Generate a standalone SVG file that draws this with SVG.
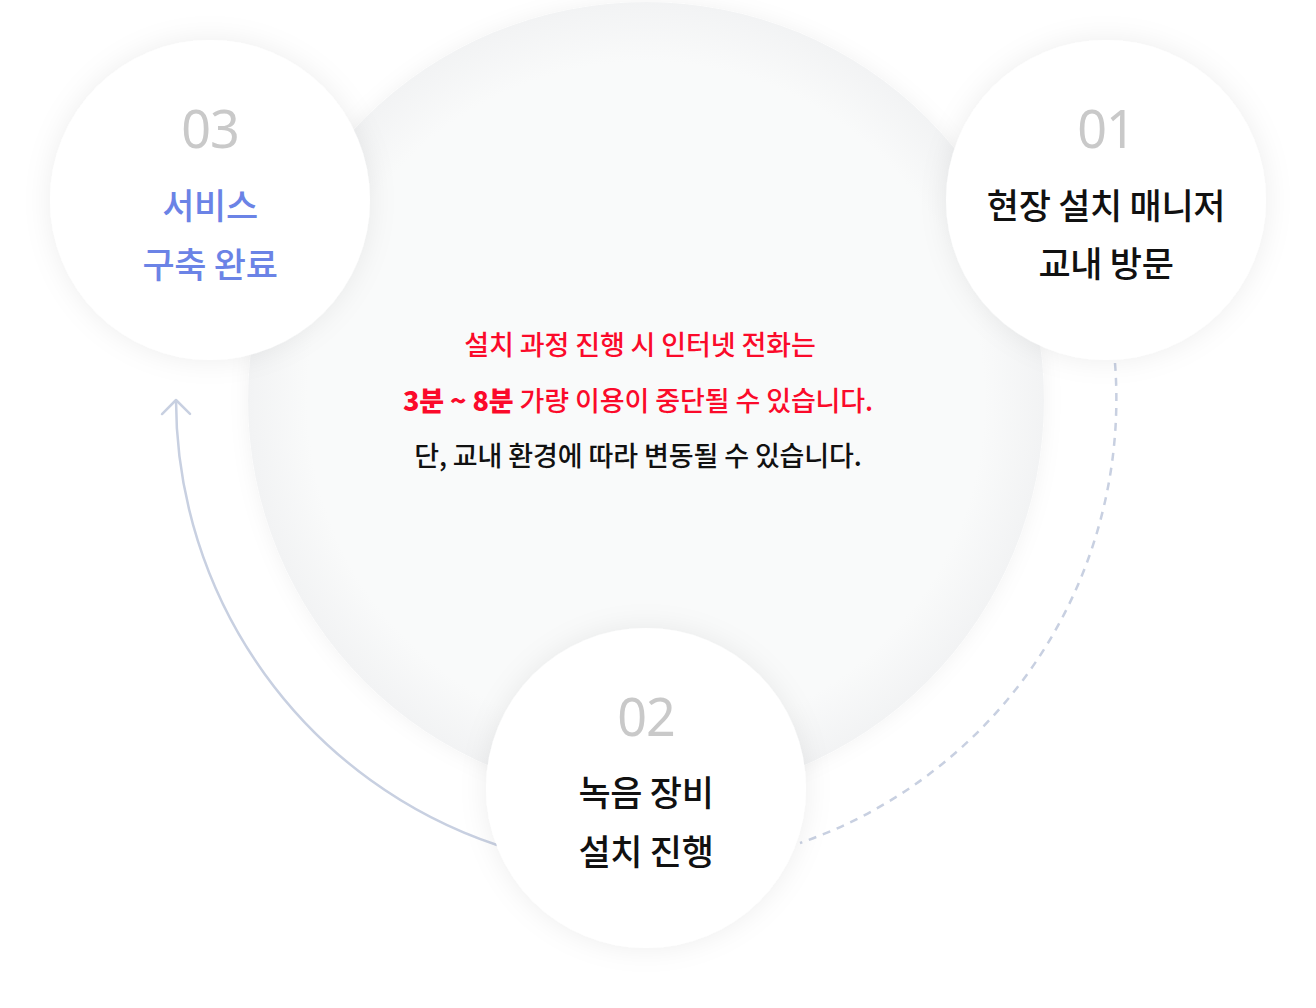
<svg xmlns="http://www.w3.org/2000/svg" width="1316" height="1008" viewBox="0 0 1316 1008">
<style>
.num{font-family:"Noto Sans","Noto Sans CJK KR",sans-serif;font-weight:400;font-size:52px;fill:#c9c9c9;text-anchor:middle;letter-spacing:-1px}
.lbl{font-family:"Noto Sans CJK KR","Noto Sans",sans-serif;font-weight:500;font-size:35px;fill:#111111;text-anchor:middle;letter-spacing:-0.3px}
.blue{fill:#6b83e6}
.note{font-family:"Noto Sans CJK KR","Noto Sans",sans-serif;font-weight:500;font-size:27px;text-anchor:middle;letter-spacing:-0.1px}
.red{fill:#fb0a2a}
.dark{fill:#111111}
.node{fill:#ffffff;filter:url(#sh)}
.conn{fill:none;stroke:#c8d0e1;stroke-width:2.5}
</style>
<defs>
<filter id="sh" x="-30%" y="-30%" width="160%" height="160%">
<feDropShadow dx="0" dy="0" stdDeviation="14" flood-color="#000000" flood-opacity="0.07"/>
</filter>
<filter id="shb" x="-20%" y="-20%" width="140%" height="140%">
<feDropShadow dx="0" dy="0" stdDeviation="10" flood-color="#000000" flood-opacity="0.05"/>
</filter>
<radialGradient id="bg" cx="0.5" cy="0.5" r="0.5">
<stop offset="0.85" stop-color="#f9fafa"/>
<stop offset="1" stop-color="#f2f3f4"/>
</radialGradient>
<marker id="arr" markerUnits="userSpaceOnUse" markerWidth="34" markerHeight="34" refX="17" refY="17" orient="auto" viewBox="0 0 34 34">
<path d="M3 3 L17 17 L3 31" fill="none" stroke="#c8d0e1" stroke-width="2.5" stroke-linecap="round" stroke-linejoin="round"/>
</marker>
</defs>
<rect width="1316" height="1008" fill="#ffffff"/>
<g id="center">
<circle cx="646" cy="400" r="398" fill="url(#bg)" filter="url(#shb)"/>
<text class="note red" x="640" y="355">설치 과정 진행 시 인터넷 전화는</text>
<text class="note red" x="638" y="411"><tspan font-weight="800">3분 ~ 8분</tspan> 가량 이용이 중단될 수 있습니다.</text>
<text class="note dark" x="638" y="466">단, 교내 환경에 따라 변동될 수 있습니다.</text>
</g>
<g id="connectors">
<path class="conn" d="M497 845 A470 470 0 0 1 176 400" marker-end="url(#arr)"/>
<path class="conn" d="M1115 363 A470 470 0 0 1 800 843" stroke-width="3.2" stroke-dasharray="8 7"/>
</g>
<g id="step03">
<circle class="node" cx="210" cy="200" r="160"/>
<text class="num" x="210" y="148">03</text>
<text class="lbl blue" x="210" y="219">서비스</text>
<text class="lbl blue" x="210" y="278">구축 완료</text>
</g>
<g id="step01">
<circle class="node" cx="1106" cy="200" r="160"/>
<text class="num" x="1106" y="148">01</text>
<text class="lbl" x="1106" y="219">현장 설치 매니저</text>
<text class="lbl" x="1106" y="277">교내 방문</text>
</g>
<g id="step02">
<circle class="node" cx="646" cy="788" r="160"/>
<text class="num" x="646" y="736">02</text>
<text class="lbl" x="646" y="806">녹음 장비</text>
<text class="lbl" x="646" y="865">설치 진행</text>
</g>
</svg>
